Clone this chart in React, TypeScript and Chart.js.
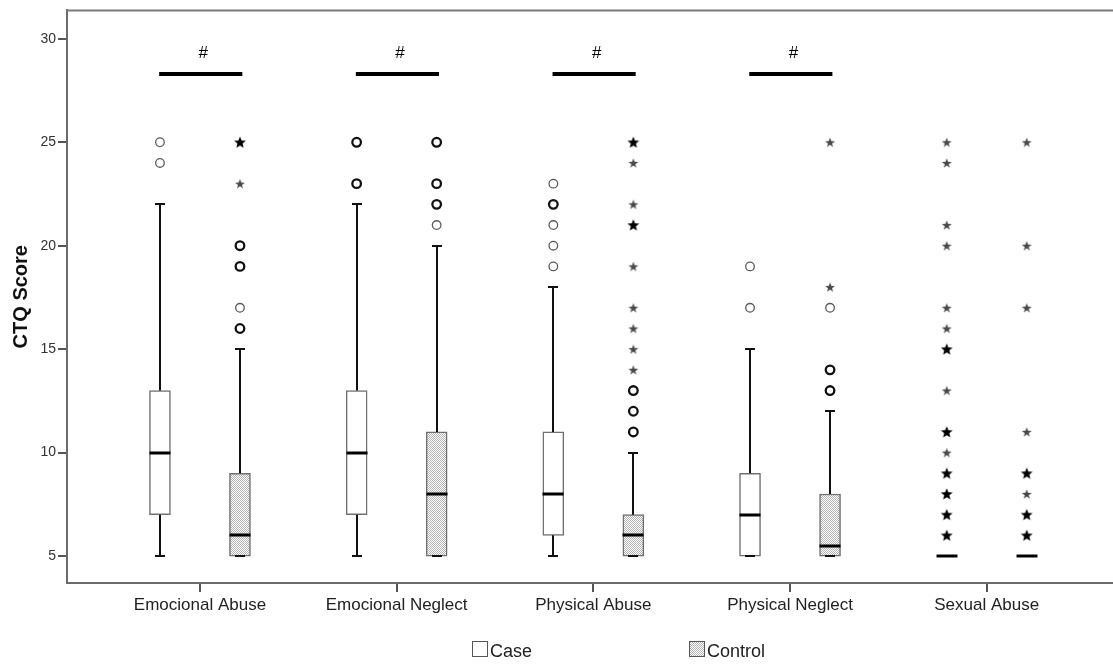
import React, { useEffect, useRef } from 'react';
import { Chart, registerables } from 'chart.js';

Chart.register(...registerables);

// ---------------- data ----------------
const categories = ['Emocional Abuse', 'Emocional Neglect', 'Physical Abuse', 'Physical Neglect', 'Sexual Abuse'];
const yTicks = [5, 10, 15, 20, 25, 30];
const seriesNames = ['Case', 'Control'];

const caseMin = [5, 5, 5, 5, 5];
const caseQ1 = [7, 7, 6, 5, 5];
const caseMedian = [10, 10, 8, 7, 5];
const caseQ3 = [13, 13, 11, 9, 5];
const caseMax = [22, 22, 18, 15, 5];

const controlMin = [5, 5, 5, 5, 5];
const controlQ1 = [5, 5, 5, 5, 5];
const controlMedian = [6, 8, 6, 5.5, 5];
const controlQ3 = [9, 11, 7, 8, 5];
const controlMax = [15, 20, 10, 12, 5];

// outliers (circles) and extremes (stars), per category; "bold" = overlapping cases
const caseCirclesLight = [[25, 24], [], [23, 21, 20, 19], [19, 17], []];
const caseCirclesBold = [[], [25, 23], [22], [], []];
const caseStarsLight = [[], [], [], [], [25, 24, 21, 20, 17, 16, 13, 10]];
const caseStarsBold = [[], [], [], [], [15, 11, 9, 8, 7, 6]];

const controlCirclesLight = [[17], [21], [], [17], []];
const controlCirclesBold = [[20, 19, 16], [25, 23, 22], [13, 12, 11], [14, 13], []];
const controlStarsLight = [[23], [], [24, 22, 19, 17, 16, 15, 14], [25, 18], [25, 20, 17, 11, 8]];
const controlStarsBold = [[25], [], [25, 21], [], [9, 7, 6]];

const significant = [true, true, true, true, false];
const sigLevel = 28.3;
const sigLabel = '#';
const sigLabelLevel = 29.3;

// ---------------- styling / geometry ----------------
const FONT = "'Liberation Sans', Arial, Helvetica, sans-serif";
const GROUP_OFFSET = 0.2034;
const BOX_WIDTH = 21;

function makePattern(): CanvasPattern | string {
  const c = document.createElement('canvas');
  c.width = 2;
  c.height = 2;
  const g = c.getContext('2d');
  if (!g) return '#dcdcdc';
  g.fillStyle = '#ffffff';
  g.fillRect(0, 0, 2, 2);
  g.fillStyle = '#b4b4b4';
  g.fillRect(0, 0, 1, 1);
  g.fillRect(1, 1, 1, 1);
  const ctx2 = document.createElement('canvas').getContext('2d');
  const p = ctx2 ? ctx2.createPattern(c, 'repeat') : null;
  return p || '#dcdcdc';
}

function makeStar(outer: number, inner: number, color: string): HTMLCanvasElement {
  const size = 14;
  const c = document.createElement('canvas');
  c.width = size;
  c.height = size;
  const g = c.getContext('2d');
  if (g) {
    g.fillStyle = color;
    g.beginPath();
    for (let k = 0; k < 10; k++) {
      const r = k % 2 === 0 ? outer : inner;
      const a = -Math.PI / 2 + (k * Math.PI) / 5;
      const px = size / 2 + r * Math.cos(a);
      const py = size / 2 + 0.5 + r * Math.sin(a);
      if (k === 0) g.moveTo(px, py);
      else g.lineTo(px, py);
    }
    g.closePath();
    g.fill();
  }
  return c;
}

const pts = (groups: number[][], off: number) =>
  groups.flatMap((vals, i) => vals.map((v) => ({ x: i + off, y: v })));

export default function App() {
  const ref = useRef<HTMLCanvasElement | null>(null);

  useEffect(() => {
    if (!ref.current) return;
    const pattern = makePattern();
    const starLight = makeStar(5.2, 2.1, '#4a4a4a');
    const starBold = makeStar(6.2, 2.7, '#000000');

    const circleLight = {
      pointStyle: 'circle',
      pointRadius: 4.3,
      pointBorderWidth: 1.3,
      pointBorderColor: '#5a5a5a',
      pointBackgroundColor: 'rgba(255,255,255,0)',
    };
    const circleBold = {
      pointStyle: 'circle',
      pointRadius: 4.3,
      pointBorderWidth: 2.3,
      pointBorderColor: '#111111',
      pointBackgroundColor: 'rgba(255,255,255,0)',
    };

    const groups = [
      { off: -GROUP_OFFSET, min: caseMin, q1: caseQ1, med: caseMedian, q3: caseQ3, max: caseMax },
      { off: GROUP_OFFSET, min: controlMin, q1: controlQ1, med: controlMedian, q3: controlQ3, max: controlMax },
    ];

    const extras = {
      id: 'boxExtras',
      afterDatasetsDraw(chart: any) {
        const { ctx, chartArea, scales } = chart;
        const x = scales.x;
        const y = scales.y;
        ctx.save();
        // top frame line
        ctx.strokeStyle = '#7a7a7a';
        ctx.lineWidth = 2;
        ctx.beginPath();
        ctx.moveTo(chartArea.left - 1, chartArea.top);
        ctx.lineTo(chartArea.right, chartArea.top);
        ctx.stroke();

        const seg = (x1: number, y1: number, x2: number, y2: number) => {
          ctx.beginPath();
          ctx.moveTo(x1, y1);
          ctx.lineTo(x2, y2);
          ctx.stroke();
        };

        groups.forEach((g) => {
          categories.forEach((_, i) => {
            const cx = Math.round(x.getPixelForValue(i + g.off));
            const yMax = Math.round(y.getPixelForValue(g.max[i]));
            const yMin = Math.round(y.getPixelForValue(g.min[i]));
            const yQ1 = y.getPixelForValue(g.q1[i]);
            const yQ3 = y.getPixelForValue(g.q3[i]);
            const yMed = Math.round(y.getPixelForValue(g.med[i]));
            ctx.strokeStyle = '#111';
            ctx.lineWidth = 2;
            if (g.max[i] > g.q3[i]) seg(cx, yQ3, cx, yMax);
            if (g.min[i] < g.q1[i]) seg(cx, yQ1, cx, yMin);
            if (g.max[i] > g.q3[i]) seg(cx - 5, yMax, cx + 5, yMax);
            seg(cx - 5, yMin, cx + 5, yMin);
            ctx.strokeStyle = '#000';
            ctx.lineWidth = 3;
            seg(cx - BOX_WIDTH / 2, yMed, cx + BOX_WIDTH / 2, yMed);
          });
        });

        // significance bars
        const yb = Math.round(y.getPixelForValue(sigLevel));
        const yl = y.getPixelForValue(sigLabelLevel);
        categories.forEach((_, i) => {
          if (!significant[i]) return;
          ctx.strokeStyle = '#000';
          ctx.lineWidth = 4;
          seg(x.getPixelForValue(i - GROUP_OFFSET - 0.004), yb, x.getPixelForValue(i + GROUP_OFFSET + 0.012), yb);
          ctx.fillStyle = '#000';
          ctx.font = `17px ${FONT}`;
          ctx.textAlign = 'center';
          ctx.textBaseline = 'middle';
          ctx.fillText(sigLabel, x.getPixelForValue(i + 0.017), yl);
        });
        ctx.restore();
      },
      afterDraw(chart: any) {
        const { ctx } = chart;
        ctx.save();
        ctx.font = `18px ${FONT}`;
        ctx.textAlign = 'left';
        ctx.textBaseline = 'alphabetic';
        const items = [
          { box: 472, fill: '#ffffff' as any, label: seriesNames[0] },
          { box: 689, fill: pattern as any, label: seriesNames[1] },
        ];
        items.forEach((it) => {
          ctx.fillStyle = it.fill;
          ctx.fillRect(it.box, 641, 15, 15);
          ctx.strokeStyle = '#555';
          ctx.lineWidth = 1;
          ctx.strokeRect(it.box + 0.5, 641.5, 15, 15);
          ctx.fillStyle = '#222';
          ctx.fillText(it.label, it.box + 18, 657);
        });
        ctx.restore();
      },
    };

    const chart = new Chart(ref.current, {
      type: 'bar',
      data: {
        datasets: [
          {
            type: 'bar',
            label: seriesNames[0],
            data: categories.map((_, i) => ({ x: i - GROUP_OFFSET, y: [caseQ1[i], caseQ3[i]] })) as any,
            backgroundColor: '#ffffff',
            borderColor: '#707070',
            borderWidth: 1.5,
            borderSkipped: false,
            barThickness: BOX_WIDTH,
            grouped: false,
          },
          {
            type: 'bar',
            label: seriesNames[1],
            data: categories.map((_, i) => ({ x: i + GROUP_OFFSET, y: [controlQ1[i], controlQ3[i]] })) as any,
            backgroundColor: pattern as any,
            borderColor: '#707070',
            borderWidth: 1.5,
            borderSkipped: false,
            barThickness: BOX_WIDTH,
            grouped: false,
          },
          { type: 'scatter', label: 'case outliers', data: pts(caseCirclesLight, -GROUP_OFFSET), ...circleLight } as any,
          { type: 'scatter', label: 'case outliers (multiple)', data: pts(caseCirclesBold, -GROUP_OFFSET), ...circleBold } as any,
          { type: 'scatter', label: 'case extremes', data: pts(caseStarsLight, -GROUP_OFFSET), pointStyle: starLight, pointRadius: 6 } as any,
          { type: 'scatter', label: 'case extremes (multiple)', data: pts(caseStarsBold, -GROUP_OFFSET), pointStyle: starBold, pointRadius: 6 } as any,
          { type: 'scatter', label: 'control outliers', data: pts(controlCirclesLight, GROUP_OFFSET), ...circleLight } as any,
          { type: 'scatter', label: 'control outliers (multiple)', data: pts(controlCirclesBold, GROUP_OFFSET), ...circleBold } as any,
          { type: 'scatter', label: 'control extremes', data: pts(controlStarsLight, GROUP_OFFSET), pointStyle: starLight, pointRadius: 6 } as any,
          { type: 'scatter', label: 'control extremes (multiple)', data: pts(controlStarsBold, GROUP_OFFSET), pointStyle: starBold, pointRadius: 6 } as any,
        ],
      },
      options: {
        responsive: false,
        animation: false,
        events: [],
        layout: { autoPadding: false, padding: { top: 9, right: 0, bottom: 0, left: 0 } },
        plugins: { legend: { display: false }, tooltip: { enabled: false } },
        scales: {
          x: {
            type: 'linear',
            min: -0.676,
            max: 4.642,
            offset: false,
            afterBuildTicks: (s: any) => {
              s.ticks = categories.map((_, i) => ({ value: i }));
            },
            afterFit: (s: any) => {
              s.height = 83;
            },
            grid: { drawOnChartArea: false, drawTicks: true, tickLength: 9, color: '#555', lineWidth: 2, offset: false },
            border: { display: true, color: '#6b6b6b', width: 2 },
            ticks: {
              callback: (v: any) => categories[v] ?? '',
              font: { family: FONT, size: 17 },
              color: '#222',
              padding: 3,
              maxRotation: 0,
              autoSkip: false,
            },
          },
          y: {
            type: 'linear',
            min: 3.698,
            max: 31.374,
            afterBuildTicks: (s: any) => {
              s.ticks = yTicks.map((v) => ({ value: v }));
            },
            afterFit: (s: any) => {
              s.width = 67;
            },
            grid: { drawOnChartArea: false, drawTicks: true, tickLength: 9, color: '#555', lineWidth: 2 },
            border: { display: true, color: '#6b6b6b', width: 2 },
            ticks: { font: { family: FONT, size: 14 }, color: '#333', padding: 2 },
            title: {
              display: true,
              text: 'CTQ Score',
              font: { family: FONT, size: 20, weight: 'bold' },
              color: '#111',
              padding: { top: 9, bottom: 0 },
            },
          },
        },
      } as any,
      plugins: [extras as any],
    });
    return () => chart.destroy();
  }, []);

  return (
    <div style={{ position: 'fixed', left: 0, top: 0, width: 1113, height: 666, background: '#fff' }}>
      <canvas ref={ref} width={1113} height={666} style={{ display: 'block' }} />
    </div>
  );
}
